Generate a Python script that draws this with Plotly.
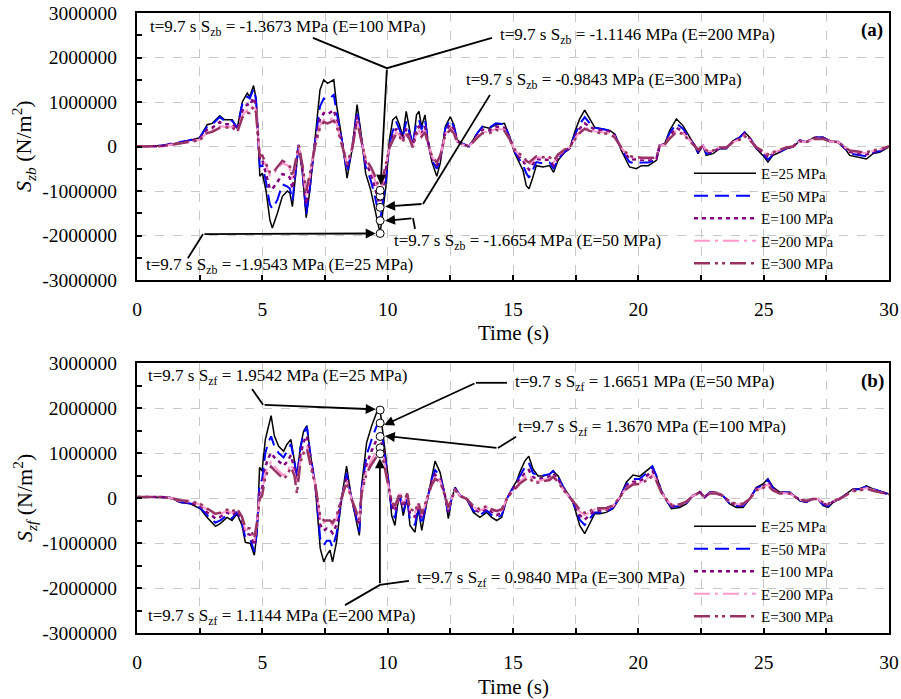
import plotly.graph_objects as go

# ---------------- data (MPa) ----------------
E_LABELS = ["E=25 MPa", "E=50 MPa", "E=100 MPa", "E=200 MPa", "E=300 MPa"]
E_VALUES = [25, 50, 100, 200, 300]

T_ZB = [0, 1.0, 1.5, 2.0, 2.5, 2.8, 3.0, 3.3, 3.5, 3.8,
        4.0, 4.2, 4.4, 4.5, 4.65, 4.75, 4.85, 4.9, 5.0, 5.15,
        5.3, 5.4, 5.6, 5.8, 6.0, 6.1, 6.2, 6.3, 6.45, 6.6,
        6.75, 6.9, 7.1, 7.3, 7.45, 7.6, 7.85, 7.97, 8.18, 8.38,
        8.58, 8.78, 8.92, 9.12, 9.32, 9.46, 9.7, 9.93, 10.07, 10.2,
        10.34, 10.47, 10.6, 10.74, 10.88, 11.0, 11.15, 11.25, 11.35, 11.49,
        11.6, 11.76, 11.96, 12.1, 12.3, 12.5, 12.64, 12.77, 12.97, 13.24,
        13.58, 13.78, 14.05, 14.32, 14.66, 14.86, 15.07, 15.2, 15.4, 15.53,
        15.64, 15.77, 15.93, 16.2, 16.46, 16.62, 16.8, 17.06, 17.26, 17.46,
        17.66, 17.86, 18.06, 18.26, 18.52, 18.86, 19.06, 19.32, 19.65, 19.92,
        20.12, 20.4, 20.72, 20.85, 21.05, 21.25, 21.52, 21.78, 22.05, 22.25,
        22.38, 22.58, 22.71, 22.98, 23.24, 23.51, 23.78, 24.04, 24.24, 24.44,
        24.71, 24.97, 25.17, 25.37, 25.64, 25.9, 26.17, 26.44, 26.7, 27.03,
        27.37, 27.63, 27.97, 28.3, 28.43, 28.83, 29.1, 29.36, 29.63, 30.0]

SZB_25 = [0, 0.02, 0.07, 0.12, 0.2, 0.49, 0.52, 0.69, 0.6, 0.6,
          0.41, 1.0, 1.2, 1.12, 1.37, 1.08, 0.0, -0.67, -0.6, -1.0,
          -1.65, -1.83, -1.5, -1.12, -1.0, -1.05, -1.35, -0.82, 0.04, -0.6,
          -1.6, -0.97, 0.15, 1.27, 1.5, 1.42, 1.5, 0.9, 0.15, -0.71,
          -0.07, 0.94, 0.37, -0.6, -0.97, -1.35, -1.9543, -0.9, 0.15, 0.6,
          0.67, 0.49, 0.22, 0.79, 0.37, 0.0, 0.71, 0.79, 0.45, 0.71,
          0.15, -0.34, -0.67, -0.37, 0.45, 0.67, 0.49, 0.15, 0.07, 0.0,
          0.3, 0.45, 0.41, 0.49, 0.52, 0.22, -0.15, -0.31, -0.54, -0.88,
          -0.95, -0.73, -0.43, -0.46, -0.43, -0.58, -0.31, -0.13, -0.05, 0.32,
          0.62, 0.82, 0.62, 0.43, 0.4, 0.36, 0.28, -0.09, -0.46, -0.5,
          -0.43, -0.43, -0.31, 0.02, 0.06, 0.36, 0.62, 0.47, 0.21, 0.02,
          -0.16, 0.02, -0.2, -0.16, -0.05, -0.05, 0.13, 0.21, 0.32, 0.21,
          -0.05, -0.2, -0.35, -0.2, -0.13, -0.05, -0.01, 0.13, 0.1, 0.21,
          0.21, 0.13, 0.1, -0.09, -0.2, -0.24, -0.28, -0.16, -0.13, -0.01]
SZB_50 = [0, 0.02, 0.08, 0.13, 0.2, 0.45, 0.5, 0.66, 0.58, 0.58,
          0.42, 0.95, 1.12, 1.08, 1.3, 1.05, 0.0, -0.45, -0.42, -0.8,
          -1.3, -1.4, -1.2, -0.85, -0.9, -0.95, -1.22, -0.7, 0.04, -0.55,
          -1.52, -0.9, 0.1, 0.9, 1.08, 1.05, 1.16, 0.75, 0.12, -0.58,
          -0.05, 0.8, 0.3, -0.45, -0.75, -1.05, -1.6654, -0.75, 0.05, 0.34,
          0.56, 0.4, 0.2, 0.56, 0.3, 0.05, 0.55, 0.6, 0.38, 0.6,
          0.15, -0.3, -0.5, -0.3, 0.4, 0.6, 0.45, 0.15, 0.07, 0.0,
          0.3, 0.45, 0.42, 0.52, 0.5, 0.22, -0.12, -0.25, -0.42, -0.6,
          -0.7, -0.55, -0.35, -0.38, -0.36, -0.5, -0.28, -0.12, -0.04, 0.25,
          0.5, 0.66, 0.52, 0.42, 0.4, 0.36, 0.26, -0.06, -0.35, -0.38,
          -0.36, -0.36, -0.3, 0.02, 0.06, 0.3, 0.52, 0.4, 0.18, 0.02,
          -0.12, 0.02, -0.16, -0.14, -0.04, -0.04, 0.12, 0.2, 0.32, 0.2,
          -0.04, -0.16, -0.3, -0.18, -0.12, -0.04, 0.0, 0.14, 0.1, 0.2,
          0.2, 0.13, 0.1, -0.07, -0.16, -0.2, -0.22, -0.14, -0.1, 0.0]
SZB_100 = [0, 0.01, 0.06, 0.11, 0.17, 0.38, 0.42, 0.55, 0.5, 0.5,
           0.38, 0.8, 0.95, 0.92, 1.1, 0.9, 0.0, -0.3, -0.3, -0.6,
           -0.95, -0.95, -0.8, -0.62, -0.65, -0.7, -0.95, -0.55, 0.03, -0.5,
           -1.3, -0.75, 0.05, 0.62, 0.75, 0.72, 0.82, 0.6, 0.08, -0.45,
           -0.05, 0.68, 0.25, -0.35, -0.6, -0.85, -1.3673, -0.55, 0.0, 0.22,
           0.4, 0.3, 0.15, 0.4, 0.22, 0.02, 0.4, 0.45, 0.3, 0.45,
           0.12, -0.25, -0.42, -0.25, 0.32, 0.5, 0.38, 0.12, 0.06, 0.0,
           0.25, 0.38, 0.36, 0.45, 0.42, 0.2, -0.1, -0.2, -0.32, -0.45,
           -0.52, -0.42, -0.28, -0.3, -0.3, -0.42, -0.24, -0.1, -0.03, 0.2,
           0.4, 0.52, 0.44, 0.38, 0.36, 0.33, 0.24, -0.04, -0.28, -0.3,
           -0.3, -0.3, -0.28, 0.02, 0.05, 0.24, 0.42, 0.34, 0.16, 0.02,
           -0.1, 0.02, -0.13, -0.12, -0.03, -0.03, 0.11, 0.18, 0.28, 0.18,
           -0.03, -0.13, -0.25, -0.16, -0.1, -0.03, 0.0, 0.13, 0.1, 0.19,
           0.19, 0.12, 0.1, -0.05, -0.12, -0.16, -0.18, -0.12, -0.08, 0.0]
SZB_200 = [0, 0.01, 0.05, 0.1, 0.15, 0.32, 0.36, 0.46, 0.44, 0.45,
           0.34, 0.7, 0.82, 0.8, 0.95, 0.8, 0.0, -0.22, -0.22, -0.45,
           -0.65, -0.65, -0.5, -0.38, -0.42, -0.5, -0.75, -0.45, 0.02, -0.45,
           -1.1, -0.65, 0.02, 0.48, 0.6, 0.58, 0.65, 0.5, 0.05, -0.4,
           -0.05, 0.6, 0.22, -0.3, -0.5, -0.7, -1.1146, -0.45, -0.02, 0.16,
           0.32, 0.25, 0.12, 0.32, 0.18, 0.0, 0.32, 0.36, 0.25, 0.36,
           0.1, -0.22, -0.38, -0.22, 0.28, 0.42, 0.32, 0.1, 0.05, 0.0,
           0.22, 0.33, 0.32, 0.4, 0.38, 0.18, -0.08, -0.16, -0.26, -0.36,
           -0.42, -0.34, -0.24, -0.26, -0.26, -0.36, -0.2, -0.08, -0.02, 0.17,
           0.33, 0.44, 0.38, 0.34, 0.32, 0.3, 0.22, -0.03, -0.24, -0.26,
           -0.27, -0.27, -0.26, 0.02, 0.04, 0.2, 0.36, 0.3, 0.14, 0.02,
           -0.08, 0.02, -0.1, -0.1, -0.02, -0.02, 0.1, 0.16, 0.25, 0.16,
           -0.02, -0.11, -0.2, -0.14, -0.08, -0.02, 0.0, 0.12, 0.1, 0.18,
           0.18, 0.12, 0.1, -0.04, -0.1, -0.13, -0.15, -0.1, -0.07, 0.0]
SZB_300 = [0, 0.01, 0.05, 0.09, 0.14, 0.3, 0.33, 0.42, 0.42, 0.43,
           0.32, 0.65, 0.76, 0.75, 0.9, 0.76, 0.0, -0.2, -0.2, -0.4,
           -0.58, -0.6, -0.45, -0.32, -0.38, -0.45, -0.68, -0.42, 0.02, -0.42,
           -1.0, -0.6, 0.0, 0.42, 0.55, 0.52, 0.58, 0.45, 0.04, -0.38,
           -0.05, 0.56, 0.2, -0.28, -0.45, -0.62, -0.9843, -0.4, -0.03, 0.13,
           0.28, 0.22, 0.1, 0.28, 0.16, -0.02, 0.28, 0.32, 0.22, 0.32,
           0.08, -0.2, -0.36, -0.2, 0.25, 0.38, 0.3, 0.09, 0.05, 0.0,
           0.2, 0.3, 0.3, 0.37, 0.35, 0.17, -0.07, -0.14, -0.22, -0.32,
           -0.36, -0.3, -0.22, -0.24, -0.24, -0.32, -0.18, -0.07, -0.02, 0.15,
           0.3, 0.4, 0.35, 0.32, 0.3, 0.28, 0.2, -0.02, -0.22, -0.24,
           -0.25, -0.25, -0.25, 0.02, 0.04, 0.18, 0.33, 0.28, 0.13, 0.02,
           -0.07, 0.02, -0.09, -0.09, -0.02, -0.02, 0.1, 0.15, 0.23, 0.15,
           -0.02, -0.1, -0.18, -0.13, -0.07, -0.02, 0.0, 0.12, 0.1, 0.17,
           0.17, 0.12, 0.1, -0.03, -0.09, -0.12, -0.13, -0.09, -0.06, 0.0]

T_ZF = [0, 1.0, 1.33, 1.73, 2.13, 2.53, 2.79, 3.13, 3.32, 3.59,
        3.79, 3.99, 4.19, 4.32, 4.52, 4.68, 4.79, 4.89, 4.99, 5.12,
        5.25, 5.35, 5.48, 5.65, 5.85, 5.98, 6.14, 6.28, 6.38, 6.52,
        6.65, 6.78, 6.91, 7.11, 7.31, 7.45, 7.57, 7.7, 7.8, 7.96,
        8.16, 8.36, 8.56, 8.76, 8.87, 8.96, 9.16, 9.36, 9.56, 9.7,
        9.83, 10.03, 10.16, 10.29, 10.39, 10.49, 10.62, 10.78, 10.89, 11.09,
        11.22, 11.36, 11.56, 11.75, 11.89, 12.09, 12.29, 12.42, 12.55, 12.69,
        12.89, 13.15, 13.42, 13.68, 13.95, 14.15, 14.35, 14.55, 14.75, 14.95,
        15.15, 15.27, 15.47, 15.63, 15.8, 16.0, 16.2, 16.46, 16.6, 16.8,
        16.99, 17.19, 17.39, 17.53, 17.66, 17.86, 18.06, 18.26, 18.46, 18.72,
        18.99, 19.26, 19.52, 19.79, 20.05, 20.32, 20.56, 20.72, 20.92, 21.12,
        21.32, 21.65, 21.91, 22.18, 22.45, 22.65, 22.85, 23.11, 23.38, 23.64,
        23.91, 24.18, 24.44, 24.71, 24.97, 25.17, 25.37, 25.64, 26.04, 26.3,
        26.44, 26.7, 26.97, 27.17, 27.37, 27.57, 27.77, 28.03, 28.3, 28.56,
        28.83, 29.1, 29.36, 29.63, 30.0]

SZF_25 = [0.02, 0.02, 0.01, -0.1, -0.13, -0.24, -0.43, -0.63, -0.57, -0.43,
          -0.5, -0.35, -0.61, -0.98, -1.01, -1.27, -0.76, 0.68, 0.6, 1.3,
          1.6, 1.83, 1.38, 1.15, 1.04, 1.19, 1.3, 0.86, 0.49, 1.15,
          1.49, 1.61, 1.0, 0.27, -1.12, -1.42, -1.27, -1.16, -1.42, -0.98,
          -0.02, 0.71, -0.02, -0.54, -0.83, 0.27, 1.23, 1.6, 1.9, 1.9542,
          1.3, 0.42, -0.39, -0.61, -0.17, 0.05, -0.39, 0.0, -0.61, -0.76,
          -0.24, -0.72, -0.1, 0.46, 0.82, 0.57, 0.05, -0.46, -0.02, 0.24,
          0.05, -0.02, -0.32, -0.43, -0.32, -0.43, -0.5, -0.43, -0.02, 0.2,
          0.38, 0.57, 0.82, 0.93, 0.64, 0.49, 0.49, 0.53, 0.6, 0.49,
          0.27, 0.09, -0.1, -0.35, -0.61, -0.79, -0.57, -0.35, -0.35, -0.32,
          -0.24, 0.01, 0.35, 0.51, 0.48, 0.6, 0.71, 0.49, 0.16, -0.06,
          -0.24, -0.21, -0.13, 0.05, 0.13, 0.01, 0.13, 0.13, 0.05, -0.13,
          -0.21, -0.21, -0.02, 0.24, 0.31, 0.43, 0.24, 0.13, 0.13, 0.01,
          -0.06, -0.1, -0.02, -0.02, -0.17, -0.21, -0.1, -0.02, 0.09, 0.2,
          0.2, 0.27, 0.2, 0.16, 0.09]
SZF_50 = [0.02, 0.02, 0.0, -0.09, -0.12, -0.22, -0.38, -0.55, -0.5, -0.38,
          -0.45, -0.32, -0.55, -0.88, -0.92, -1.2, -0.7, 0.35, 0.4, 1.0,
          1.25, 1.37, 1.15, 1.0, 0.9, 1.05, 1.2, 0.8, 0.45, 1.1,
          1.45, 1.58, 1.0, 0.3, -0.9, -1.05, -0.95, -0.95, -1.1, -0.8,
          -0.02, 0.55, -0.02, -0.45, -0.75, 0.2, 0.95, 1.3, 1.6, 1.6651,
          1.2, 0.35, -0.25, -0.45, -0.12, 0.05, -0.3, 0.0, -0.5, -0.6,
          -0.2, -0.6, -0.08, 0.4, 0.62, 0.5, 0.05, -0.38, -0.02, 0.22,
          0.05, -0.02, -0.28, -0.38, -0.28, -0.38, -0.44, -0.38, -0.02, 0.18,
          0.35, 0.5, 0.68, 0.78, 0.55, 0.5, 0.5, 0.53, 0.6, 0.47,
          0.25, 0.08, -0.08, -0.28, -0.48, -0.6, -0.45, -0.32, -0.32, -0.3,
          -0.22, 0.01, 0.3, 0.42, 0.42, 0.55, 0.7, 0.5, 0.15, -0.05,
          -0.2, -0.18, -0.12, 0.05, 0.13, 0.02, 0.13, 0.13, 0.05, -0.12,
          -0.18, -0.18, -0.02, 0.22, 0.28, 0.4, 0.22, 0.13, 0.12, 0.01,
          -0.05, -0.09, -0.02, -0.02, -0.15, -0.18, -0.09, -0.02, 0.08, 0.18,
          0.2, 0.25, 0.2, 0.15, 0.08]
SZF_100 = [0.02, 0.02, 0.0, -0.08, -0.1, -0.18, -0.32, -0.45, -0.42, -0.32,
           -0.38, -0.28, -0.5, -0.78, -0.82, -1.05, -0.62, 0.15, 0.2, 0.7,
           0.9, 1.0, 0.9, 0.82, 0.72, 0.8, 0.95, 0.65, 0.35, 0.95,
           1.25, 1.38, 0.9, 0.3, -0.6, -0.72, -0.68, -0.7, -0.78, -0.6,
           -0.02, 0.45, -0.02, -0.4, -0.6, 0.15, 0.75, 1.05, 1.3, 1.367,
           1.05, 0.3, -0.15, -0.3, -0.08, 0.08, -0.2, 0.05, -0.35, -0.42,
           -0.15, -0.45, -0.05, 0.35, 0.52, 0.42, 0.05, -0.3, -0.02, 0.2,
           0.05, -0.02, -0.24, -0.32, -0.24, -0.32, -0.38, -0.32, -0.02, 0.16,
           0.3, 0.42, 0.55, 0.62, 0.46, 0.42, 0.44, 0.48, 0.55, 0.42,
           0.22, 0.07, -0.07, -0.22, -0.38, -0.48, -0.38, -0.28, -0.28, -0.26,
           -0.2, 0.01, 0.26, 0.36, 0.36, 0.48, 0.6, 0.45, 0.14, -0.04,
           -0.18, -0.16, -0.1, 0.05, 0.13, 0.02, 0.12, 0.12, 0.05, -0.1,
           -0.16, -0.16, -0.02, 0.2, 0.25, 0.35, 0.2, 0.12, 0.11, 0.01,
           -0.04, -0.08, -0.02, -0.02, -0.13, -0.16, -0.08, -0.02, 0.07, 0.17,
           0.19, 0.23, 0.18, 0.14, 0.08]
SZF_200 = [0.02, 0.02, 0.0, -0.06, -0.08, -0.15, -0.26, -0.38, -0.36, -0.28,
           -0.33, -0.25, -0.45, -0.7, -0.72, -0.95, -0.55, 0.05, 0.1, 0.55,
           0.72, 0.8, 0.72, 0.6, 0.5, 0.58, 0.75, 0.55, 0.3, 0.85,
           1.05, 1.15, 0.8, 0.3, -0.45, -0.55, -0.55, -0.55, -0.6, -0.45,
           0.0, 0.38, -0.02, -0.35, -0.5, 0.12, 0.62, 0.85, 1.05, 1.1144,
           0.9, 0.28, -0.1, -0.22, -0.05, 0.1, -0.15, 0.08, -0.28, -0.33,
           -0.12, -0.38, -0.04, 0.3, 0.45, 0.38, 0.05, -0.25, -0.02, 0.18,
           0.05, -0.02, -0.2, -0.28, -0.2, -0.28, -0.32, -0.28, -0.02, 0.14,
           0.26, 0.36, 0.46, 0.52, 0.4, 0.37, 0.4, 0.43, 0.5, 0.38,
           0.2, 0.06, -0.06, -0.18, -0.3, -0.38, -0.32, -0.25, -0.25, -0.24,
           -0.18, 0.01, 0.22, 0.32, 0.33, 0.42, 0.52, 0.4, 0.13, -0.03,
           -0.16, -0.15, -0.09, 0.05, 0.12, 0.02, 0.11, 0.11, 0.05, -0.09,
           -0.14, -0.14, -0.02, 0.18, 0.23, 0.3, 0.18, 0.11, 0.1, 0.01,
           -0.04, -0.07, -0.02, -0.02, -0.11, -0.14, -0.07, -0.02, 0.06, 0.16,
           0.18, 0.22, 0.17, 0.13, 0.08]
SZF_300 = [0.02, 0.02, 0.0, -0.05, -0.07, -0.13, -0.23, -0.35, -0.33, -0.26,
           -0.3, -0.23, -0.42, -0.66, -0.68, -0.9, -0.52, -0.02, 0.05, 0.48,
           0.62, 0.7, 0.62, 0.52, 0.42, 0.5, 0.68, 0.5, 0.1, 0.8,
           1.0, 1.1, 0.75, 0.3, -0.4, -0.5, -0.5, -0.5, -0.55, -0.4,
           0.0, 0.35, -0.02, -0.32, -0.48, 0.1, 0.55, 0.75, 0.92, 0.984,
           0.82, 0.26, -0.08, -0.18, -0.04, 0.12, -0.12, 0.1, -0.24, -0.3,
           -0.1, -0.35, -0.03, 0.28, 0.42, 0.36, 0.05, -0.22, -0.02, 0.17,
           0.05, -0.02, -0.18, -0.25, -0.18, -0.25, -0.29, -0.25, -0.02, 0.13,
           0.24, 0.32, 0.4, 0.46, 0.36, 0.34, 0.37, 0.4, 0.47, 0.36,
           0.19, 0.06, -0.05, -0.16, -0.26, -0.33, -0.29, -0.23, -0.23, -0.22,
           -0.17, 0.01, 0.2, 0.3, 0.31, 0.39, 0.48, 0.38, 0.12, -0.03,
           -0.15, -0.14, -0.08, 0.05, 0.12, 0.02, 0.1, 0.1, 0.05, -0.08,
           -0.13, -0.13, -0.02, 0.17, 0.22, 0.28, 0.17, 0.1, 0.1, 0.01,
           -0.03, -0.06, -0.02, -0.02, -0.1, -0.13, -0.06, -0.02, 0.06, 0.15,
           0.17, 0.21, 0.16, 0.12, 0.08]

T_MARK = 9.7
ZB_AT_MARK = [-1.9543, -1.6654, -1.3673, -1.1146, -0.9843]
ZF_AT_MARK = [1.9542, 1.6651, 1.3670, 1.1144, 0.9840]

Y_TICKS = [-3000000, -2000000, -1000000, 0, 1000000, 2000000, 3000000]
Y_TICKTEXT = ["-3000000", "-2000000", "-1000000", "0", "1000000", "2000000", "3000000"]
X_TICKS = [0, 5, 10, 15, 20, 25, 30]

PA_PER_MPA = 1e6

for name, t, ss in [("zb", T_ZB, [SZB_25, SZB_50, SZB_100, SZB_200, SZB_300]),
                    ("zf", T_ZF, [SZF_25, SZF_50, SZF_100, SZF_200, SZF_300])]:
    for s in ss:
        if len(s) != len(t):
            raise ValueError(f"length mismatch {name}: {len(s)} vs {len(t)}")

# ---------------- styles ----------------
FONT = "Liberation Serif, Times New Roman, serif"
STYLES = [
    dict(color="#000000", width=1.5, dash="solid"),
    dict(color="#0000FF", width=2, dash="14px,7px"),
    dict(color="#800080", width=2.5, dash="4px,4px"),
    dict(color="#FF99CC", width=2, dash="16px,5px,3px,5px"),
    dict(color="#993366", width=2.5, dash="16px,5px,3px,4px,3px,5px"),
]

fig = go.Figure()

def to_pa(vals):
    return [v * PA_PER_MPA for v in vals]

for i, s in enumerate([SZB_25, SZB_50, SZB_100, SZB_200, SZB_300]):
    fig.add_trace(go.Scatter(x=T_ZB, y=to_pa(s), mode="lines", name=E_LABELS[i],
                             line=STYLES[i], xaxis="x", yaxis="y", legend="legend"))
for i, s in enumerate([SZF_25, SZF_50, SZF_100, SZF_200, SZF_300]):
    fig.add_trace(go.Scatter(x=T_ZF, y=to_pa(s), mode="lines", name=E_LABELS[i],
                             line=STYLES[i], xaxis="x2", yaxis="y2", legend="legend2"))

# circle markers at t = 9.7 s
fig.add_trace(go.Scatter(x=[T_MARK] * 5, y=to_pa(ZB_AT_MARK), mode="markers", showlegend=False,
                         marker=dict(size=8, color="white", line=dict(color="black", width=1)),
                         xaxis="x", yaxis="y"))
fig.add_trace(go.Scatter(x=[T_MARK] * 5, y=to_pa(ZF_AT_MARK), mode="markers", showlegend=False,
                         marker=dict(size=8, color="white", line=dict(color="black", width=1)),
                         xaxis="x2", yaxis="y2"))

# ---------------- axes ----------------
XDOM = [137 / 901, 889 / 901]
TOP_DOM = [1 - 280 / 699, 1 - 13 / 699]
BOT_DOM = [1 - 633 / 699, 1 - 363 / 699]
TICKFONT = dict(family=FONT, size=19.5, color="black")

def xaxis(anchor):
    return dict(domain=XDOM, anchor=anchor, range=[0, 30], tickvals=X_TICKS, automargin=False,
                ticks="inside", ticklen=5, tickcolor="black", tickwidth=1.5,
                showline=True, linecolor="black", linewidth=2, mirror=True,
                showgrid=True, gridcolor="#c8c8c8", griddash="dash", gridwidth=1,
                minor=dict(dtick=2.5, tick0=0, ticks="inside", ticklen=5, tickcolor="black",
                           showgrid=True, gridcolor="#c8c8c8", griddash="dash"),
                tickfont=TICKFONT, ticklabelstandoff=11, zeroline=False)

def yaxis(anchor, dom):
    return dict(domain=dom, anchor=anchor, range=[-3000000, 3000000], tickvals=Y_TICKS,
                ticktext=Y_TICKTEXT, automargin=False,
                ticks="inside", ticklen=5, tickcolor="black", tickwidth=1.5,
                showline=True, linecolor="black", linewidth=2, mirror=True,
                showgrid=True, gridcolor="#c8c8c8", griddash="dash", gridwidth=1,
                minor=dict(dtick=500000, tick0=0, ticks="inside", ticklen=5, tickcolor="black",
                           showgrid=False),
                tickfont=TICKFONT, ticklabelstandoff=14, zeroline=False)

legend_common = dict(font=dict(family=FONT, size=15, color="black"), bgcolor="rgba(0,0,0,0)",
                     borderwidth=0, itemwidth=62, xanchor="left", yanchor="top",
                     tracegroupgap=0, itemclick=False)

fig.update_layout(
    width=901, height=699, margin=dict(l=0, r=0, t=0, b=0, pad=0, autoexpand=False),
    paper_bgcolor="white", plot_bgcolor="white",
    font=dict(family=FONT, color="black"),
    xaxis=xaxis("y"), yaxis=yaxis("x", TOP_DOM),
    xaxis2=xaxis("y2"), yaxis2=yaxis("x2", BOT_DOM),
    legend=dict(x=689 / 901, y=1 - 157 / 699, **legend_common),
    legend2=dict(x=689 / 901, y=1 - 510 / 699, **legend_common),
)

# ---------------- annotations & leader lines ----------------
ann = []
shapes = []
AFONT = dict(family=FONT, size=17, color="black")
TFONT = dict(family=FONT, size=21, color="black")

# white panels behind the legends (hide grid, not curves)
for y0, y1 in [(166, 272), (512, 625)]:
    shapes.append(dict(type="rect", xref="paper", yref="paper", layer="between",
                       x0=684 / 901, x1=838 / 901, y0=1 - y1 / 699, y1=1 - y0 / 699,
                       fillcolor="white", line=dict(width=0)))

# axis titles
ann.append(dict(xref="paper", yref="paper", x=513 / 901, y=1 - 333 / 699, text="Time (s)",
                showarrow=False, xanchor="center", yanchor="middle", font=TFONT))
ann.append(dict(xref="paper", yref="paper", x=513 / 901, y=1 - 687 / 699, text="Time (s)",
                showarrow=False, xanchor="center", yanchor="middle", font=TFONT))
ann.append(dict(xref="paper", yref="paper", x=24 / 901, y=1 - 146 / 699,
                text="<i>S<sub>zb</sub></i> (N/m<sup>2</sup>)", textangle=-90,
                showarrow=False, xanchor="center", yanchor="middle",
                font=dict(family=FONT, size=22, color="black")))
ann.append(dict(xref="paper", yref="paper", x=24 / 901, y=1 - 498 / 699,
                text="<i>S<sub>zf</sub></i> (N/m<sup>2</sup>)", textangle=-90,
                showarrow=False, xanchor="center", yanchor="middle",
                font=dict(family=FONT, size=22, color="black")))

def label(xr, yr, x, y, text):
    ann.append(dict(xref=xr, yref=yr, x=x, y=y * PA_PER_MPA, text=text, showarrow=False,
                    xanchor="left", yanchor="middle", font=AFONT))

def path(xr, yr, pts):
    d = "M " + " L ".join(f"{px},{py * PA_PER_MPA}" for px, py in pts)
    shapes.append(dict(type="path", xref=xr, yref=yr, path=d, line=dict(color="black", width=1.8)))

def arrow(xr, yr, tail, tip):
    ann.append(dict(xref=xr, yref=yr, axref=xr, ayref=yr, x=tip[0], y=tip[1] * PA_PER_MPA,
                    ax=tail[0], ay=tail[1] * PA_PER_MPA, text="", showarrow=True,
                    arrowhead=2, arrowsize=1.1, arrowwidth=1.8, arrowcolor="black"))

def txt(sub, v, e):
    return f"t={T_MARK} s S<sub>{sub}</sub> = {v:.4f} MPa (E={e} MPa)"

# top panel
label("x", "y", 0.44, 2.66, txt("zb", ZB_AT_MARK[2], E_VALUES[2]))
label("x", "y", 14.4, 2.48, txt("zb", ZB_AT_MARK[3], E_VALUES[3]))
label("x", "y", 13.04, 1.47, txt("zb", ZB_AT_MARK[4], E_VALUES[4]))
label("x", "y", 10.17, -2.15, txt("zb", ZB_AT_MARK[1], E_VALUES[1]))
label("x", "y", 0.28, -2.69, txt("zb", ZB_AT_MARK[0], E_VALUES[0]))
path("x", "y", [(7.02, 2.44), (9.97, 1.76), (14.16, 2.44)])
arrow("x", "y", (9.97, 1.76), (9.72, -0.86))
path("x", "y", [(14.08, 1.16), (11.41, -1.29)])
arrow("x", "y", (11.41, -1.29), (9.9, -1.35))
path("x", "y", [(11.09, -1.85), (11.01, -1.61)])
arrow("x", "y", (11.01, -1.61), (9.9, -1.67))
path("x", "y", [(2.03, -2.51), (2.63, -1.97)])
arrow("x", "y", (2.63, -1.97), (9.52, -1.955))

# bottom panel
label("x2", "y2", 0.36, 2.69, txt("zf", ZF_AT_MARK[0], E_VALUES[0]))
label("x2", "y2", 15.0, 2.56, txt("zf", ZF_AT_MARK[1], E_VALUES[1]))
label("x2", "y2", 15.12, 1.56, txt("zf", ZF_AT_MARK[2], E_VALUES[2]))
label("x2", "y2", 11.09, -1.8, txt("zf", ZF_AT_MARK[4], E_VALUES[4]))
label("x2", "y2", 0.36, -2.64, txt("zf", ZF_AT_MARK[3], E_VALUES[3]))
path("x2", "y2", [(4.59, 2.42), (5.03, 2.07)])
arrow("x2", "y2", (5.03, 2.07), (9.52, 1.97))
path("x2", "y2", [(14.76, 2.56), (13.52, 2.56)])
arrow("x2", "y2", (13.52, 2.56), (9.86, 1.62))
path("x2", "y2", [(15.12, 1.36), (14.4, 1.11)])
arrow("x2", "y2", (14.4, 1.11), (9.89, 1.38))
path("x2", "y2", [(10.85, -1.84), (9.69, -1.93), (8.3, -2.38)])
arrow("x2", "y2", (9.69, -1.93), (9.69, 0.88))

# panel labels
ann.append(dict(xref="paper", yref="paper", x=872 / 901, y=1 - 30 / 699, text="<b>(a)</b>",
                xanchor="center", yanchor="middle",
                showarrow=False, font=dict(family=FONT, size=19, color="black")))
ann.append(dict(xref="paper", yref="paper", x=872 / 901, y=1 - 381 / 699, text="<b>(b)</b>",
                xanchor="center", yanchor="middle",
                showarrow=False, font=dict(family=FONT, size=19, color="black")))

fig.update_layout(annotations=ann, shapes=shapes)
fig.write_html("out.html")
